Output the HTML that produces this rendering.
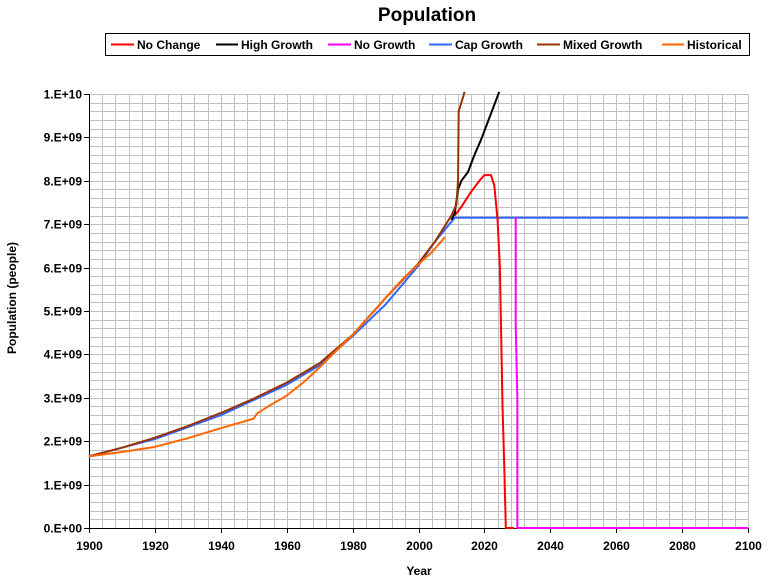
<!DOCTYPE html>
<html><head><meta charset="utf-8"><style>
body{margin:0;background:#fff;}
svg text{font-family:"Liberation Sans",Arial,sans-serif;}
</style></head><body>
<svg width="780" height="583" viewBox="0 0 780 583" xmlns="http://www.w3.org/2000/svg">
<rect width="780" height="583" fill="#fff"/>
<text x="427" y="21" font-size="19" font-weight="bold" text-anchor="middle">Population</text>
<rect x="105.5" y="33.5" width="644" height="22" fill="#fff" stroke="#000"/>
<g font-size="12" font-weight="bold">
<line x1="111" y1="44.5" x2="134" y2="44.5" stroke="#ff0000" stroke-width="2"/><text x="137" y="49">No Change</text>
<line x1="216" y1="44.5" x2="238" y2="44.5" stroke="#000" stroke-width="2"/><text x="241" y="49">High Growth</text>
<line x1="328" y1="44.5" x2="351" y2="44.5" stroke="#ff00ff" stroke-width="2"/><text x="354" y="49">No Growth</text>
<line x1="429" y1="44.5" x2="452" y2="44.5" stroke="#3366ff" stroke-width="2"/><text x="455" y="49">Cap Growth</text>
<line x1="537" y1="44.5" x2="560" y2="44.5" stroke="#993300" stroke-width="2"/><text x="563" y="49">Mixed Growth</text>
<line x1="662" y1="44.5" x2="684" y2="44.5" stroke="#ff6600" stroke-width="2"/><text x="687" y="49">Historical</text>
</g>
<g id="grid" stroke="#c0c0c0" stroke-width="1"></g>
<g id="axes"></g>
<g transform="translate(89,528) scale(3.295,-43.4)" fill="none" stroke-width="2" stroke-linejoin="round">
<polyline vector-effect="non-scaling-stroke" stroke="#3366ff" points="0,1.65 20,2.05 40,2.6 60,3.3 70,3.75 80,4.42 90,5.15 100,6.05 105,6.6 111,7.15 200,7.15"/>
<polyline vector-effect="non-scaling-stroke" stroke="#ff00ff" points="129.5,7.15 129.5,4.7 130,3 130,0 200,0"/>
<polyline vector-effect="non-scaling-stroke" stroke="#ff0000" points="111,7.2 113,7.4 116,7.75 119,8.05 120,8.13 122,8.13 123,7.9 124,7.1 124.7,6.0 125,4.8 125.5,2.8 126,1.5 126.5,0 129,0"/>
<polyline vector-effect="non-scaling-stroke" stroke="#000" points="110,7.1 111,7.25 112,7.8 113,8.0 115,8.2 117,8.6 119,8.95 121,9.35 123,9.75 124.5,10.05"/>
<polyline vector-effect="non-scaling-stroke" stroke="#993300" points="0,1.65 10,1.85 20,2.08 30,2.35 40,2.65 50,2.98 60,3.35 70,3.8 80,4.45 90,5.3 100,6.1 105,6.6 110,7.2 111.5,7.45 112,8 112.2,9.6 113,9.8 114,10.05"/>
<polyline vector-effect="non-scaling-stroke" stroke="#ff6600" points="0,1.65 10,1.75 20,1.87 30,2.07 40,2.3 50,2.52 51,2.64 55,2.83 60,3.05 65,3.35 70,3.7 75,4.08 80,4.45 85,4.87 90,5.3 95,5.72 100,6.08 104,6.35 108,6.7"/>
</g>
<g id="labels" font-size="12" font-weight="bold"></g>
<text x="419" y="575" font-size="12" font-weight="bold" text-anchor="middle">Year</text>
<text transform="translate(16,298) rotate(-90)" font-size="12" font-weight="bold" text-anchor="middle">Population (people)</text>
</svg>
<script>
var ns="http://www.w3.org/2000/svg";
var g=document.getElementById('grid'),a=document.getElementById('axes'),l=document.getElementById('labels');
function el(p,t,at,txt){var e=document.createElementNS(ns,t);for(var k in at)e.setAttribute(k,at[k]);if(txt)e.textContent=txt;p.appendChild(e);return e;}
var x0=89,x1=748,y0=94,y1=528;
for(var i=1;i<=50;i++){var x=Math.round(x0+(x1-x0)*i/50)+0.5;el(g,'line',{x1:x,y1:y0,x2:x,y2:y1});}
for(var i=0;i<50;i++){var y=Math.round(y0+(y1-y0)*i/50)+0.5;el(g,'line',{x1:x0,y1:y,x2:x1,y2:y});}
el(a,'line',{x1:x0+0.5,y1:y0,x2:x0+0.5,y2:y1+1,stroke:'#000','stroke-width':1});
el(a,'line',{x1:x0,y1:y1+0.5,x2:x1+1,y2:y1+0.5,stroke:'#000','stroke-width':1});
for(var i=0;i<=10;i++){var y=Math.round(y1-(y1-y0)*i/10)+0.5;el(a,'line',{x1:x0-5,y1:y,x2:x0,y2:y,stroke:'#000'});
el(l,'text',{x:x0-7,y:y+4,'text-anchor':'end'},(i==10?'1.E+10':i+'.E+0'+(i==0?'0':'9')).replace('0.E+00','0.E+00'));}
for(var i=0;i<=10;i++){var x=Math.round(x0+(x1-x0)*i/10)+0.5;el(a,'line',{x1:x,y1:y1,x2:x,y2:y1+5,stroke:'#000'});
el(l,'text',{x:x,y:y1+22,'text-anchor':'middle'},String(1900+20*i));}
</script>
</body></html>
